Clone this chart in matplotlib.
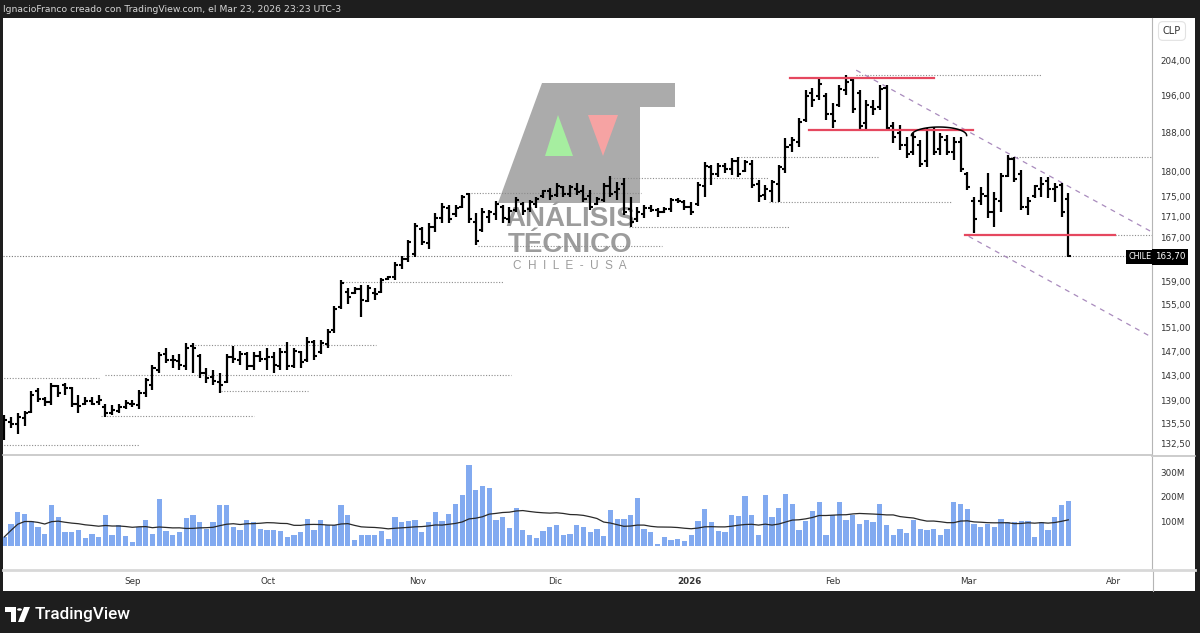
import numpy as np
import pandas as pd
import matplotlib
matplotlib.use("Agg")
import matplotlib.pyplot as plt
from matplotlib.patches import Polygon, Rectangle, Circle
from matplotlib.ticker import NullLocator

W, H = 1200, 633

# daily bars, CHILE (CLP), Aug 2025 -> Mar 23 2026
opens = [134.0, 135.8, 135.5, 136.3, 137.3, 140.5, 139.3, 138.8, 141.3, 141.5,
         141.0, 138.6, 138.5, 139.0, 138.8, 138.0, 137.2, 137.5, 138.0, 138.6,
         138.3, 140.2, 141.5, 144.0, 146.5, 145.5, 145.4, 144.6, 147.8, 146.2,
         143.4, 142.8, 142.0, 142.0, 146.0, 145.6, 146.5, 144.5, 146.2, 145.8,
         146.0, 144.5, 146.8, 144.6, 146.8, 145.5, 148.5, 146.8, 148.2, 150.5,
         154.5, 157.2, 157.0, 157.6, 155.6, 157.0, 157.2, 159.4, 159.8, 162.0,
         163.0, 164.0, 168.7, 166.0, 169.0, 170.8, 172.8, 171.5, 173.0, 175.5,
         170.0, 168.5, 171.0, 171.5, 173.0, 170.5, 172.3, 173.5, 172.5, 173.5,
         175.0, 176.0, 175.2, 176.8, 175.5, 176.5, 176.0, 175.0, 173.5, 174.3,
         177.0, 175.8, 177.5, 172.5, 170.5, 171.5, 172.7, 172.3, 172.0, 172.5,
         174.3, 173.8, 173.0, 173.5, 177.0, 180.8, 179.5, 181.0, 180.5, 182.2,
         180.0, 181.5, 177.5, 175.2, 176.0, 177.5, 180.5, 185.5, 186.0, 190.8,
         196.5, 196.0, 196.0, 192.0, 194.0, 197.2, 199.5, 196.5, 190.0, 193.5,
         193.5, 197.8, 189.5, 188.0, 185.5, 184.0, 185.5, 182.0, 188.5, 184.5,
         186.5, 184.0, 186.0, 179.5, 174.0, 174.0, 175.0, 172.0, 174.0, 179.0,
         182.5, 179.5, 173.0, 175.0, 176.5, 178.0, 176.5, 177.2, 174.5]
highs = [136.9, 136.5, 137.1, 137.5, 140.5, 141.0, 139.7, 141.8, 141.6, 141.8,
         141.2, 139.9, 139.7, 139.7, 140.0, 138.6, 138.3, 138.6, 139.2, 139.2,
         140.7, 142.6, 144.7, 146.8, 147.6, 146.3, 146.6, 148.3, 148.3, 146.6,
         144.2, 143.9, 143.4, 146.6, 147.8, 147.1, 146.8, 146.8, 147.1, 147.5,
         146.8, 147.5, 148.5, 147.6, 147.1, 149.3, 148.8, 148.8, 150.8, 154.7,
         159.2, 157.9, 158.1, 158.3, 158.3, 157.9, 159.7, 160.0, 162.6, 163.7,
         166.7, 169.9, 169.1, 169.9, 171.8, 173.7, 173.3, 173.3, 175.3, 175.7,
         171.8, 172.8, 172.4, 174.1, 173.3, 173.0, 174.9, 173.9, 174.3, 174.9,
         176.3, 176.7, 177.7, 177.1, 177.3, 177.7, 177.3, 176.3, 174.9, 177.7,
         179.1, 177.9, 178.7, 174.9, 173.0, 173.3, 173.3, 172.8, 173.0, 174.7,
         174.7, 174.3, 173.9, 177.9, 181.9, 181.3, 181.7, 181.7, 182.7, 182.9,
         182.3, 182.3, 178.3, 177.3, 178.3, 181.3, 186.9, 187.1, 191.1, 197.2,
         197.7, 199.9, 196.6, 194.4, 198.3, 200.6, 199.9, 197.2, 195.0, 195.0,
         198.3, 198.3, 190.3, 189.6, 187.1, 187.9, 186.5, 189.0, 189.2, 187.9,
         187.5, 187.1, 187.1, 179.9, 174.9, 176.9, 179.7, 175.9, 179.7, 183.4,
         182.9, 180.3, 174.9, 177.3, 178.9, 178.9, 177.7, 177.7, 175.7]
lows = [133.0, 134.8, 134.0, 135.2, 137.1, 138.8, 138.2, 138.3, 139.7, 139.9,
        138.0, 137.2, 138.3, 138.3, 138.3, 136.5, 136.8, 137.1, 137.7, 138.0,
        137.8, 139.6, 140.8, 143.5, 145.0, 144.2, 144.0, 144.0, 143.4, 142.7,
        141.9, 141.5, 140.3, 141.8, 145.0, 144.7, 143.9, 143.9, 145.2, 144.0,
        143.4, 143.9, 143.9, 144.2, 144.3, 145.2, 145.5, 146.6, 147.5, 150.0,
        154.2, 155.1, 156.8, 152.7, 155.3, 155.8, 157.0, 159.2, 159.2, 161.3,
        162.6, 163.5, 165.7, 165.0, 168.2, 169.9, 169.9, 171.0, 172.8, 169.9,
        165.7, 168.2, 169.9, 170.4, 169.9, 169.9, 172.0, 171.4, 172.0, 172.8,
        174.7, 174.3, 174.9, 174.9, 174.9, 175.3, 173.9, 172.4, 173.3, 173.9,
        174.9, 174.3, 171.4, 169.1, 170.1, 170.8, 172.0, 171.0, 171.8, 172.0,
        173.7, 172.4, 171.4, 173.1, 174.9, 177.3, 178.9, 179.7, 179.3, 178.9,
        179.9, 176.7, 173.9, 174.3, 173.9, 173.9, 179.7, 184.0, 185.0, 190.3,
        193.5, 195.0, 190.7, 189.0, 193.5, 196.1, 192.2, 188.6, 188.6, 191.8,
        192.9, 188.6, 185.8, 184.4, 182.7, 183.4, 180.9, 180.9, 183.4, 183.4,
        183.4, 182.3, 179.9, 176.3, 168.0, 173.3, 170.8, 169.1, 172.0, 178.9,
        177.9, 172.4, 171.4, 174.7, 174.9, 174.7, 173.9, 171.0, 163.5]
closes = [136.0, 135.5, 136.5, 137.2, 140.0, 139.3, 138.9, 141.3, 140.2, 141.0,
          138.6, 138.2, 139.0, 138.6, 139.2, 137.2, 137.6, 138.0, 138.7, 138.5,
          140.3, 142.3, 144.3, 146.3, 145.6, 145.5, 144.8, 147.6, 147.5, 143.5,
          142.6, 142.1, 141.6, 146.0, 145.8, 146.6, 144.5, 146.2, 145.8, 146.0,
          144.8, 146.8, 144.6, 147.0, 145.3, 148.6, 146.2, 148.3, 150.3, 154.2,
          158.8, 156.3, 157.6, 155.7, 157.8, 156.8, 159.2, 159.8, 162.0, 163.0,
          166.2, 169.2, 166.2, 169.0, 170.8, 173.0, 170.5, 172.8, 174.8, 170.5,
          166.5, 172.0, 172.0, 173.5, 170.8, 172.2, 174.2, 172.2, 173.8, 174.5,
          176.0, 175.0, 177.0, 175.5, 176.8, 175.8, 174.5, 173.0, 174.5, 177.0,
          175.5, 176.5, 172.0, 170.0, 172.0, 172.7, 172.3, 172.0, 172.6, 174.3,
          174.0, 173.0, 172.0, 177.2, 181.0, 179.5, 181.0, 180.5, 182.0, 179.5,
          181.8, 177.2, 175.0, 176.5, 177.8, 180.8, 185.0, 186.5, 190.3, 196.0,
          195.0, 198.5, 192.0, 190.5, 197.5, 199.0, 193.0, 189.5, 194.0, 193.0,
          197.5, 189.0, 187.0, 185.5, 183.5, 187.0, 181.5, 188.5, 184.0, 187.0,
          184.0, 186.0, 180.5, 176.8, 170.5, 175.5, 172.0, 174.5, 179.0, 182.5,
          178.5, 173.0, 174.0, 177.0, 177.5, 176.5, 176.8, 172.0, 163.7]
# volume in millions
volumes_m = [37, 91, 139, 132, 100, 78, 50, 166, 119, 57,
             57, 64, 33, 50, 37, 128, 46, 85, 40, 16,
             78, 105, 50, 191, 60, 44, 55, 115, 126, 98,
             71, 98, 166, 166, 78, 64, 105, 98, 71, 64,
             64, 60, 37, 46, 57, 112, 64, 105, 85, 85,
             169, 128, 23, 46, 46, 46, 60, 30, 119, 98,
             101, 105, 57, 98, 139, 101, 132, 173, 207, 330,
             228, 246, 237, 105, 119, 74, 156, 64, 44, 33,
             60, 78, 85, 44, 50, 85, 78, 57, 70, 40,
             146, 109, 109, 128, 196, 71, 57, 10, 37, 26,
             30, 19, 44, 101, 150, 98, 60, 55, 126, 123,
             203, 126, 44, 207, 119, 156, 214, 173, 64, 101,
             142, 180, 44, 128, 180, 104, 128, 91, 104, 98,
             173, 85, 44, 71, 53, 105, 71, 64, 68, 44,
             68, 180, 173, 150, 91, 78, 91, 78, 112, 98,
             98, 101, 101, 37, 98, 64, 119, 166, 183]

month_pos = [20, 40.2, 62.3, 82.8, 102.7, 124, 144.2, 165.7]
month_labels = ["Sep", "Oct", "Nov", "Dic", "2026", "Feb", "Mar", "Abr"]
price_ticks = [204, 196, 188, 180, 175, 171, 167, 159, 155, 151, 147, 143, 139, 135.5, 132.5]
vol_ticks = [100, 200, 300]
last_price = 163.70

# drawings on the chart (price level, from bar, to bar)
dot_levels = [200.6, 182.9, 182.9, 178.7, 173.9, 169.1, 175.7, 165.5, 167.5,
              159.0, 148.0, 143.2, 142.7, 140.5, 136.6, 132.3]
dot_start = [127.5, 110.0, 150.1, 90.7, 114.5, 93.7, 70.3, 71.4, 166.0,
             51.3, 28.8, 15.9, 0.5, 33.2, 15.4, 0.5]
dot_end = [155.0, 130.8, 172.0, 114.5, 141.6, 117.6, 95.6, 98.6, 172.0,
           75.2, 56.2, 76.3, 15.1, 46.1, 38.1, 21.0]
red_levels = [199.9, 188.6, 167.5]
red_start = [117.6, 120.5, 143.7]
red_end = [139.0, 144.9, 166.0]
chan_up_x, chan_up_y = [127.5, 171.3], [201.7, 168.2]
chan_lo_x, chan_lo_y = [144.2, 171.3], [167.3, 149.4]


def fx(x):
    return x / W


def fy(y):
    return 1 - y / H


fig = plt.figure(figsize=(12, 6.33), dpi=100, facecolor="#1e1e1e")
fig.patches.append(Rectangle((fx(3), fy(591)), (1195 - 3) / W, (591 - 18) / H,
                             transform=fig.transFigure, fc="white", ec="none", zorder=-5))

ax = fig.add_axes([fx(3), fy(455), 1149 / W, 437 / H])
ax2 = fig.add_axes([fx(3), fy(570), 1149 / W, 113 / H], sharex=ax)
for a in (ax, ax2):
    a.set_facecolor("none")

x = np.arange(1, len(closes) + 1)

# OHLC bars
ax.vlines(x, lows, highs, color="black", lw=1.6, zorder=4)
ax.hlines(opens, x - 0.45, x, color="black", lw=1.5, zorder=4)
ax.hlines(closes, x, x + 0.45, color="black", lw=1.5, zorder=4)

ax.set_yscale("log")
ax.set_xlim(0.8, 0.8 + 1149 / 6.734)
ax.set_ylim(130.8, 213.9)

# drawings
for lv, s, e in zip(dot_levels, dot_start, dot_end):
    ax.plot([s, e], [lv, lv], color="#8c8c8c", lw=0.8, ls=(0, (1, 1.5)), zorder=3)
ax.axhline(last_price, color="#777777", lw=0.8, ls=(0, (1, 1.5)), zorder=3)
for lv, s, e in zip(red_levels, red_start, red_end):
    ax.plot([s, e], [lv, lv], color="#e5485f", lw=1.6, zorder=5)
ax.plot(chan_up_x, chan_up_y, color="#a98bbd", lw=0.9, ls=(0, (4, 4)), zorder=3)
ax.plot(chan_lo_x, chan_lo_y, color="#a98bbd", lw=0.9, ls=(0, (4, 4)), zorder=3)
th = np.linspace(0, np.pi, 50)
ax.plot(139.8 + 4.1 * np.cos(th), 187.4 + 1.8 * np.sin(th), color="black", lw=1.1, zorder=5)

# watermark logo
gray_shape = [(542, 83), (675, 83), (675, 107), (640, 107), (640, 203), (498, 203)]
ax.add_patch(Polygon([(fx(a), fy(b)) for a, b in gray_shape], closed=True,
                     transform=fig.transFigure, fc="#ababab", ec="none", zorder=1))
ax.add_patch(Polygon([(fx(545), fy(156)), (fx(558), fy(115)), (fx(573), fy(156))],
                     transform=fig.transFigure, fc="#a6eea0", ec="none", zorder=1.5))
ax.add_patch(Polygon([(fx(588), fy(115)), (fx(618), fy(115)), (fx(603), fy(156))],
                     transform=fig.transFigure, fc="#f6a3a3", ec="none", zorder=1.5))
ax.text(fx(570), fy(219), "ANÁLISIS", transform=fig.transFigure, ha="center", va="center",
        fontsize=20, fontweight="bold", family="Liberation Sans", color="#9c9c9c", zorder=1)
ax.text(fx(570), fy(245), "TÉCNICO", transform=fig.transFigure, ha="center", va="center",
        fontsize=20, fontweight="bold", family="Liberation Sans", color="#9c9c9c", zorder=1)
ax.text(fx(570), fy(266), "C  H  I  L  E  -  U  S  A", transform=fig.transFigure,
        ha="center", va="center", fontsize=8.5, family="Liberation Sans",
        color="#9c9c9c", zorder=1)

# volume
vols = np.array(volumes_m) * 1e6
ax2.bar(x, vols, width=0.78, color="#82aaf0", zorder=2)
ma = pd.Series(vols).rolling(20, min_periods=1).mean()
ax2.plot(x, ma, color="#2a2a2a", lw=0.9, zorder=3)
ax2.set_ylim(-98e6, 363e6)

# axes styling
for a in (ax, ax2):
    a.yaxis.tick_right()
    a.tick_params(axis="y", length=0, pad=6, labelsize=6.3, labelcolor="#333333")
    a.spines["left"].set_visible(False)
    a.spines["top"].set_visible(False)
    a.spines["right"].set_color("#b5b5b5")
    a.spines["right"].set_linewidth(0.8)
ax.spines["bottom"].set_color("#c4c4c4")
ax.spines["bottom"].set_linewidth(1.2)
ax2.spines["bottom"].set_color("#d8d8d8")
ax2.spines["bottom"].set_linewidth(2)

ax.yaxis.set_major_locator(plt.FixedLocator(price_ticks))
ax.yaxis.set_minor_locator(NullLocator())
ax.set_yticklabels([f"{v:.2f}".replace(".", ",") for v in price_ticks])
ax.tick_params(axis="x", which="both", bottom=False, labelbottom=False)

ax2.set_yticks([v * 1e6 for v in vol_ticks])
ax2.set_yticklabels([f"{v}M" for v in vol_ticks])
ax2.set_xticks(month_pos)
ax2.set_xticklabels(month_labels)
ax2.tick_params(axis="x", length=0, pad=5, labelsize=6.3, labelcolor="#333333")
for lab in ax2.get_xticklabels():
    if lab.get_text() == "2026":
        lab.set_fontweight("bold")

# separators continued across the price-scale column
fig.add_artist(plt.Line2D([fx(1152.5)] * 2, [fy(570), fy(591)], color="#b5b5b5", lw=0.8))
fig.add_artist(plt.Line2D([fx(1152), fx(1195)], [fy(455.5)] * 2, color="#c4c4c4", lw=1.2))
fig.add_artist(plt.Line2D([fx(1152), fx(1195)], [fy(570)] * 2, color="#d8d8d8", lw=2))

# price labels
fig.text(fx(1140), fy(257), "CHILE", ha="center", va="center", fontsize=5.8, color="white",
         bbox=dict(boxstyle="square,pad=0.35", fc="black", ec="none"))
fig.text(fx(1170), fy(257), "163,70", ha="center", va="center", fontsize=6.3, color="white",
         bbox=dict(boxstyle="square,pad=0.35", fc="black", ec="none"))
fig.text(fx(1172), fy(31), "CLP", ha="center", va="center", fontsize=7, color="#333333",
         bbox=dict(boxstyle="round,pad=0.45", fc="white", ec="#e2e2e2", lw=0.8))

# header / footer
fig.text(fx(3), fy(9), "IgnacioFranco creado con TradingView.com, el Mar 23, 2026 23:23 UTC-3",
         ha="left", va="center", fontsize=6.7, color="#d6d6d6")
fig.patches.append(Polygon([(fx(5), fy(607)), (fx(16), fy(607)), (fx(16), fy(622)),
                            (fx(11), fy(622)), (fx(11), fy(612)), (fx(5), fy(612))],
                           transform=fig.transFigure, fc="white", ec="none"))
fig.patches.append(Circle((fx(19.5), fy(609.5)), 2.4 / W, transform=fig.transFigure,
                          fc="white", ec="none"))
fig.patches.append(Polygon([(fx(24), fy(607)), (fx(30), fy(607)), (fx(24), fy(622)),
                            (fx(18), fy(622))], transform=fig.transFigure, fc="white", ec="none"))
fig.text(fx(35), fy(615), "TradingView", ha="left", va="center", fontsize=12.3,
         family="Roboto", fontweight="medium", color="white")

fig.savefig("out.png", dpi=100, facecolor=fig.get_facecolor())
